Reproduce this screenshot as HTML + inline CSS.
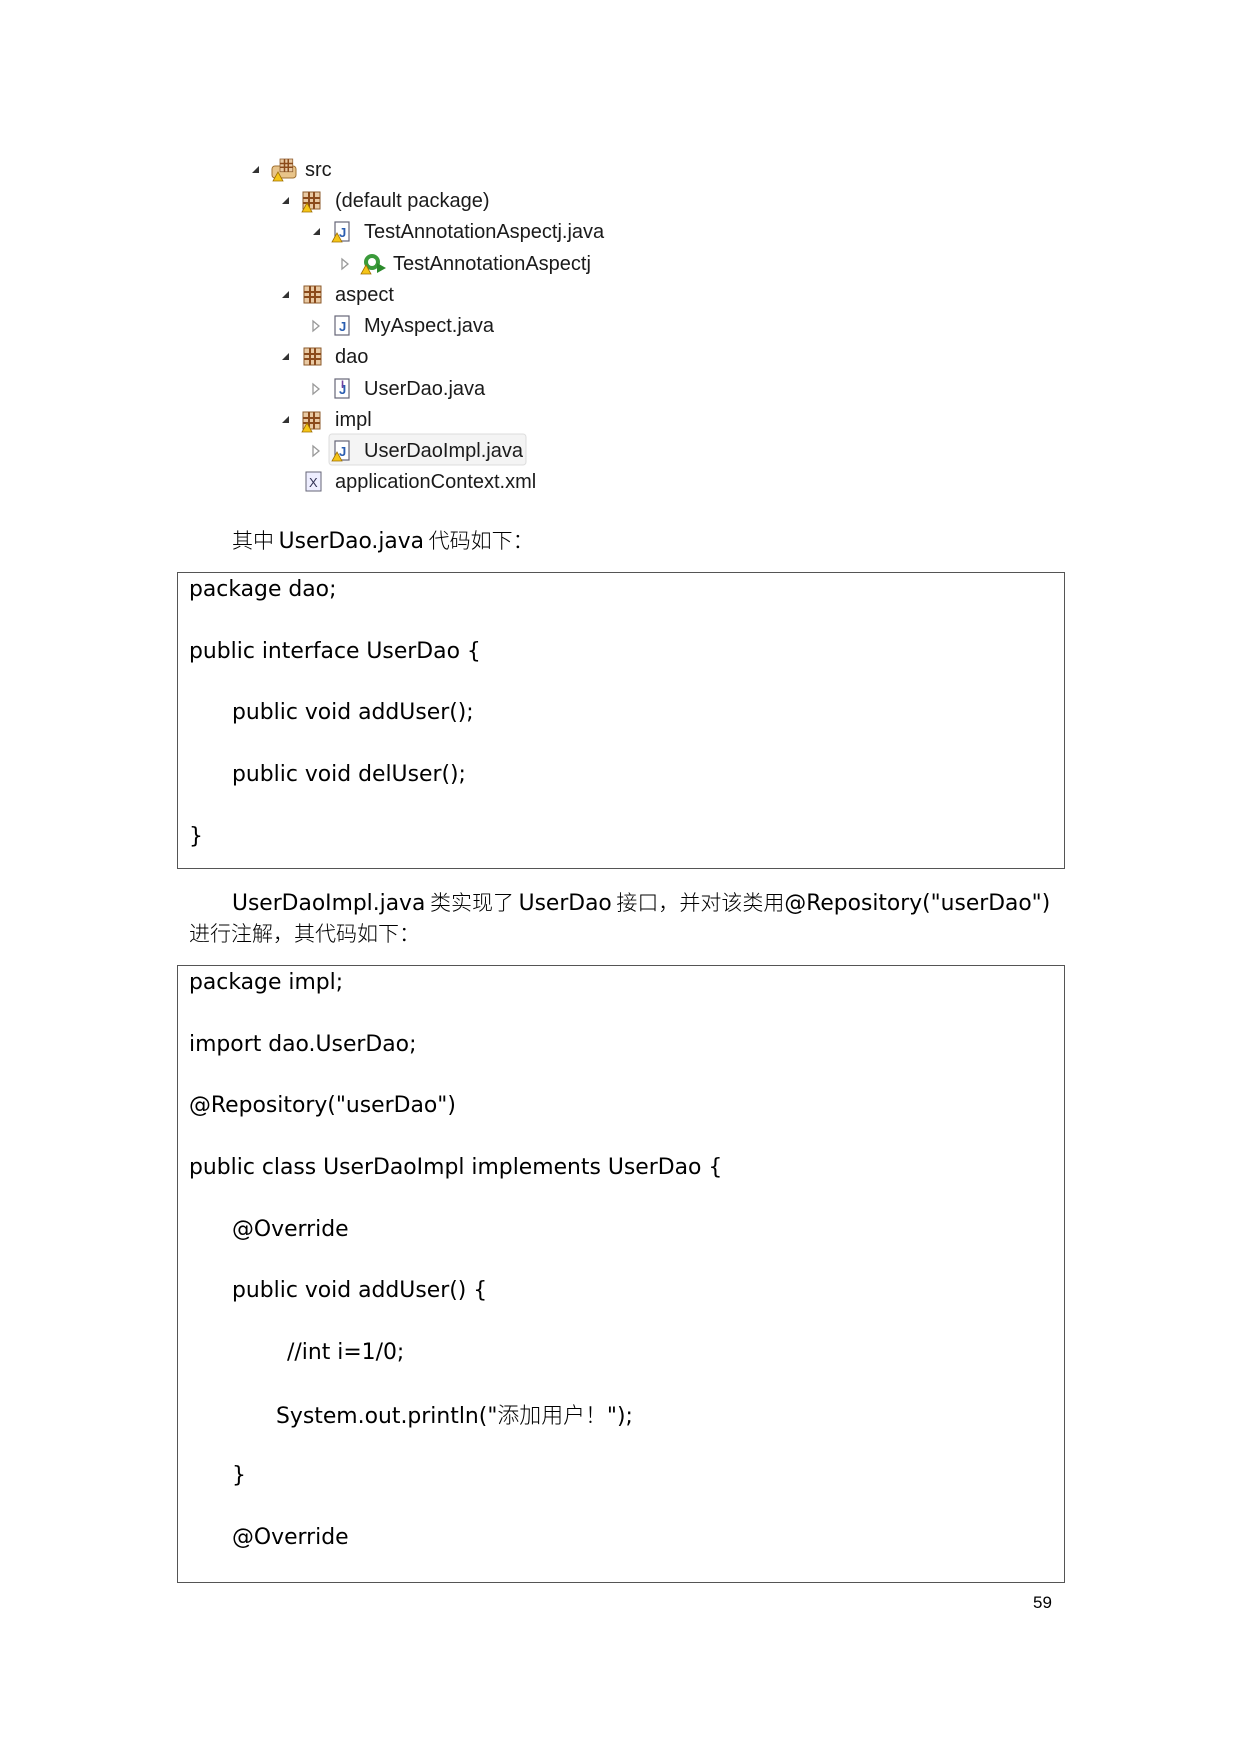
<!DOCTYPE html>
<html><head><meta charset="utf-8"><style>
body{margin:0;background:#fff;}
#pg{position:relative;width:1240px;height:1753px;overflow:hidden;background:#fff;}
.t{position:absolute;white-space:nowrap;line-height:30px;height:30px;}
.tr{font-family:"Liberation Sans",sans-serif;font-size:20px;color:#1a1a1a;}
.cd{font-family:"DejaVu Sans","Noto Sans CJK SC",sans-serif;font-size:21.9px;color:#000;}
.cn{font-family:"DejaVu Sans","Noto Sans CJK SC",sans-serif;font-size:21.8px;color:#000;}
.cn .z{font-family:"Noto Sans CJK SC",sans-serif;font-weight:300;font-size:21px;}
.box{position:absolute;border:1.5px solid #555;box-sizing:border-box;}
.ic{position:absolute;}
</style></head><body><div id="pg">
<svg class="ic" style="left:0;top:0" width="1240" height="520">
<defs>
<g id="exp"><polygon points="7,0 7,7 0,7" fill="#333"/></g>
<g id="col"><polygon points="0,0 6,5 0,10" fill="none" stroke="#999" stroke-width="1.3"/></g>
<g id="pkg"><rect x="0" y="0" width="17" height="17" fill="#e9c9a3" stroke="#8b5a2b" stroke-width="1"/><line x1="6" y1="0" x2="6" y2="17" stroke="#8b4a1b" stroke-width="2"/><line x1="11" y1="0" x2="11" y2="17" stroke="#8b4a1b" stroke-width="2"/><line x1="0" y1="6" x2="17" y2="6" stroke="#8b4a1b" stroke-width="2"/><line x1="0" y1="11" x2="17" y2="11" stroke="#8b4a1b" stroke-width="2"/></g>
<g id="jf"><rect x="2" y="0" width="14" height="19" fill="#fff" stroke="#667" stroke-width="1.2"/><text x="6" y="15" font-family="Liberation Sans" font-size="13" font-weight="bold" fill="#2a5db0">J</text></g>
<g id="warn"><polygon points="5,0 10,9 0,9" fill="#f5c518" stroke="#a07000" stroke-width="0.8"/></g>
</defs>
<use href="#exp" x="252" y="166"/>
<use href="#exp" x="282" y="197"/>
<use href="#exp" x="313" y="228"/>
<use href="#col" x="342" y="259"/>
<use href="#exp" x="282" y="291"/>
<use href="#col" x="313" y="321"/>
<use href="#exp" x="282" y="353"/>
<use href="#col" x="313" y="384"/>
<use href="#exp" x="282" y="416"/>
<use href="#col" x="313" y="446"/>
<rect x="272" y="166" width="24" height="12" rx="3" fill="#e8c48a" stroke="#a07030"/>
<g transform="translate(280,159) scale(0.75)"><use href="#pkg"/></g>
<use href="#warn" x="273" y="172"/>
<use href="#pkg" x="303" y="192"/><use href="#warn" x="302" y="203"/>
<use href="#jf" x="333" y="222"/><use href="#warn" x="332" y="233"/>
<circle cx="372" cy="262" r="8" fill="#3a9a3a"/><circle cx="372" cy="262" r="4" fill="#fff"/><polygon points="377,263 386,268 377,273" fill="#2a8a2a"/><use href="#warn" x="361" y="265"/>
<use href="#pkg" x="304" y="286"/>
<use href="#jf" x="333" y="316"/>
<use href="#pkg" x="304" y="348"/>
<use href="#jf" x="333" y="379"/><text x="341" y="388" font-family="Liberation Sans" font-size="11" font-weight="bold" fill="#7040a0">I</text>
<rect x="329" y="434" width="197" height="31" rx="3" fill="#f4f4f4" stroke="#ddd"/>
<use href="#pkg" x="303" y="412"/><use href="#warn" x="302" y="423"/>
<use href="#jf" x="333" y="441"/><use href="#warn" x="332" y="452"/>
<rect x="306" y="472" width="15" height="19" fill="#eef" stroke="#667"/><text x="309" y="487" font-family="Liberation Sans" font-size="13" fill="#335">X</text>
</svg>
<div class="t tr" style="left:305px;top:155px">src</div>
<div class="t tr" style="left:335px;top:186px">(default package)</div>
<div class="t tr" style="left:364px;top:217px">TestAnnotationAspectj.java</div>
<div class="t tr" style="left:393px;top:249px">TestAnnotationAspectj</div>
<div class="t tr" style="left:335px;top:280px">aspect</div>
<div class="t tr" style="left:364px;top:311px">MyAspect.java</div>
<div class="t tr" style="left:335px;top:342px">dao</div>
<div class="t tr" style="left:364px;top:374px">UserDao.java</div>
<div class="t tr" style="left:335px;top:405px">impl</div>
<div class="t tr" style="left:364px;top:436px">UserDaoImpl.java</div>
<div class="t tr" style="left:335px;top:467px">applicationContext.xml</div>

<div class="t cn" style="left:232px;top:525px"><span class="z">其中 </span>UserDao.java<span class="z"> 代码如下：</span></div>

<div class="box" style="left:177px;top:572px;width:888px;height:297px"></div>
<div class="t cd" style="left:189px;top:575px">package dao;</div>
<div class="t cd" style="left:189px;top:637px">public interface UserDao {</div>
<div class="t cd" style="left:232px;top:698px">public void addUser();</div>
<div class="t cd" style="left:232px;top:760px">public void delUser();</div>
<div class="t cd" style="left:189px;top:822px">}</div>

<div class="t cn" style="left:232px;top:887px">UserDaoImpl.java<span class="z"> 类实现了 </span>UserDao<span class="z"> 接口，并对该类用</span>@Repository("userDao")</div>
<div class="t cn" style="left:189px;top:918px"><span class="z">进行注解，其代码如下：</span></div>

<div class="box" style="left:177px;top:965px;width:888px;height:618px"></div>
<div class="t cd" style="left:189px;top:968px">package impl;</div>
<div class="t cd" style="left:189px;top:1030px">import dao.UserDao;</div>
<div class="t cd" style="left:189px;top:1091px">@Repository("userDao")</div>
<div class="t cd" style="left:189px;top:1153px">public class UserDaoImpl implements UserDao {</div>
<div class="t cd" style="left:232px;top:1215px">@Override</div>
<div class="t cd" style="left:232px;top:1276px">public void addUser() {</div>
<div class="t cd" style="left:287px;top:1338px">//int i=1/0;</div>
<div class="t cd" style="left:276px;top:1400px">System.out.println("<span style="font-family:'Noto Sans CJK SC',sans-serif;font-weight:300">添加用户！</span>");</div>
<div class="t cd" style="left:232px;top:1461px">}</div>
<div class="t cd" style="left:232px;top:1523px">@Override</div>

<div class="t" style="left:1033px;top:1588px;font-family:'Liberation Sans',sans-serif;font-size:17px">59</div>
</div></body></html>
